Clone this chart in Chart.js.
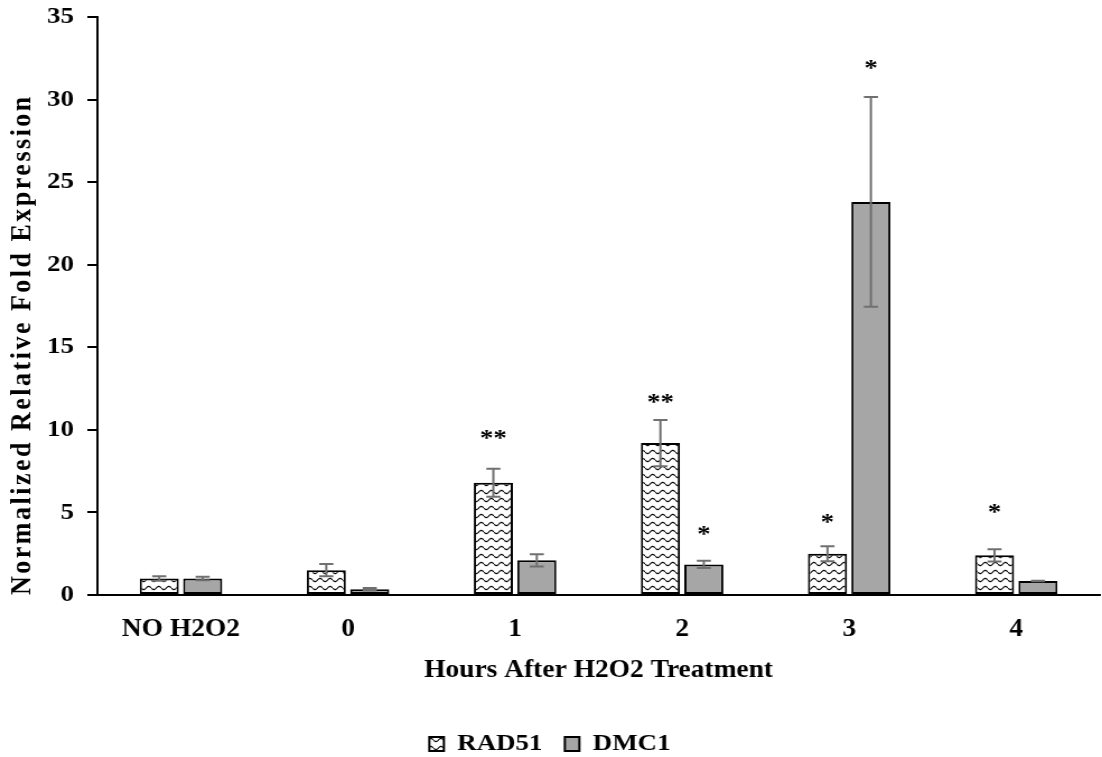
<!DOCTYPE html>
<html>
<head>
<meta charset="utf-8">
<script src="https://cdn.jsdelivr.net/npm/chart.js@4"></script>
<style>
  html, body { margin: 0; padding: 0; background: #fff; overflow: hidden; }
  /* the reference is a little wider than tall in its lettering, so stretch sideways */
  #wrap { width: 984px; height: 757px; transform: scaleX(1.11992); transform-origin: 0 0; }
</style>
</head>
<body>
<div id="wrap"><canvas id="chart" width="984" height="757"></canvas></div>
<script>
// data
const categories = ['NO H2O2', '0', '1', '2', '3', '4'];
const rad51 = [1.0, 1.5, 6.8, 9.2, 2.5, 2.4];
const rad51Err = [0.13, 0.37, 0.85, 1.4, 0.45, 0.37];
const dmc1 = [1.0, 0.35, 2.1, 1.85, 23.8, 0.85];
const dmc1Err = [0.1, 0.08, 0.37, 0.22, 6.35, 0.02];
// significance marks and the value they sit at
const rad51Stars = ['', '', '**', '**', '*', '*'];
const rad51StarAt = [null, null, 9.8, 12.0, 4.7, 5.3];
const dmc1Stars = ['', '', '', '*', '*', ''];
const dmc1StarAt = [null, null, null, 4.0, 32.2, null];
const yMin = 0, yMax = 35, yStep = 5;

const FONT = "'Liberation Serif', 'Times New Roman', serif";
const canvas = document.getElementById('chart');
const ctx = canvas.getContext('2d');

/* wavy fill used for RAD51 */
function wavePattern() {
    let tile = document.createElement('canvas');
    tile.width = 9;
    tile.height = 8;
    let g = tile.getContext('2d');
    g.fillStyle = '#fff';
    g.fillRect(0, 0, 9, 8);
    g.strokeStyle = '#000';
    g.lineWidth = 1.1;
    g.beginPath();
    for (let x = 0; x <= 9; x += 0.5) {
        let y = 4 + 1.6 * Math.sin(x / 9 * 2 * Math.PI);
        if (x === 0) g.moveTo(x, y); else g.lineTo(x, y);
    }
    g.stroke();
    return ctx.createPattern(tile, 'repeat');
}

const errs = [rad51Err, dmc1Err];
const stars = [[rad51Stars, rad51StarAt], [dmc1Stars, dmc1StarAt]];

/* error bars, drawn over the bars */
const errorBars = {
    id: 'errorBars',
    afterDatasetsDraw(chart) {
        let c = chart.ctx, y = chart.scales.y;
        c.save();
        c.strokeStyle = '#707070';
        c.lineWidth = 2;
        chart.data.datasets.forEach((ds, d) => {
            chart.getDatasetMeta(d).data.forEach((bar, i) => {
                let v = ds.data[i], e = errs[d][i];
                let top = y.getPixelForValue(v + e), bot = y.getPixelForValue(v - e);
                c.beginPath();
                c.moveTo(bar.x, top); c.lineTo(bar.x, bot);
                c.moveTo(bar.x - 6.3, top); c.lineTo(bar.x + 6.3, top);
                c.moveTo(bar.x - 6.3, bot); c.lineTo(bar.x + 6.3, bot);
                c.stroke();
            });
        });
        c.restore();
    }
};

/* asterisks above the bars */
const starMarks = {
    id: 'starMarks',
    afterDatasetsDraw(chart) {
        let c = chart.ctx, y = chart.scales.y;
        c.save();
        c.fillStyle = '#000';
        c.font = 'bold 24px ' + FONT;
        c.textAlign = 'center';
        c.textBaseline = 'alphabetic';
        stars.forEach(([txt, at], d) => {
            chart.getDatasetMeta(d).data.forEach((bar, i) => {
                if (!txt[i]) return;
                c.fillText(txt[i], bar.x, y.getPixelForValue(at[i]) + 12);
            });
        });
        c.restore();
    }
};

let barChart = new Chart(ctx, {
    type: 'bar',
    data: {
        labels: categories,
        datasets: [
            {
                label: 'RAD51',
                data: rad51,
                backgroundColor: wavePattern(),
                borderColor: '#000',
                borderWidth: 2,
                borderSkipped: false
            },
            {
                label: 'DMC1',
                data: dmc1,
                backgroundColor: '#a6a6a6',
                borderColor: '#000',
                borderWidth: 2,
                borderSkipped: false
            }
        ]
    },
    options: {
        responsive: false,
        animation: false,
        categoryPercentage: 0.52,
        barPercentage: 0.9,
        layout: { padding: { top: 17, left: 0, right: 2, bottom: -9 } },
        plugins: {
            tooltip: { enabled: false },
            legend: {
                position: 'bottom',
                labels: {
                    color: '#000',
                    boxWidth: 13,
                    boxHeight: 14,
                    padding: 20,
                    font: { family: FONT, size: 24, weight: 'bold' }
                }
            }
        },
        scales: {
            x: {
                grid: { display: false, drawTicks: false },
                border: { display: true, color: '#000', width: 2 },
                ticks: {
                    color: '#000',
                    padding: 20,
                    font: { family: FONT, size: 24.5, weight: 'bold' }
                },
                title: {
                    display: true,
                    text: 'Hours After H2O2 Treatment',
                    color: '#000',
                    padding: { top: 0, bottom: 27 },
                    font: { family: FONT, size: 24.5, weight: 'bold' }
                },
                afterFit(scale) { scale.height = 117 }
            },
            y: {
                min: yMin,
                max: yMax,
                grid: { display: true, drawOnChartArea: false, drawTicks: true, tickLength: 9, color: '#000', lineWidth: 2 },
                border: { display: true, color: '#000', width: 2 },
                ticks: {
                    stepSize: yStep,
                    color: '#000',
                    padding: 12,
                    font: { family: FONT, size: 24, weight: 'bold' }
                },
                title: {
                    display: true,
                    text: 'Normalized Relative Fold Expression',
                    align: 'start',
                    color: '#000',
                    padding: { top: 5, bottom: 0 },
                    font: { family: FONT, size: 26, weight: 'bold' }
                },
                afterFit(scale) {
                    scale.width = 87
                    scale.paddingTop = 0
                    // the title in the reference is spread out along its length
                    if (!scale._spaced) {
                        let drawTitle = scale.drawTitle
                        scale.drawTitle = function () {
                            this.ctx.save()
                            this.ctx.letterSpacing = '2.5px'
                            drawTitle.call(this)
                            this.ctx.restore()
                        }
                        scale._spaced = true
                    }
                }
            }
        }
    },
    plugins: [errorBars, starMarks]
});
</script>
</body>
</html>
